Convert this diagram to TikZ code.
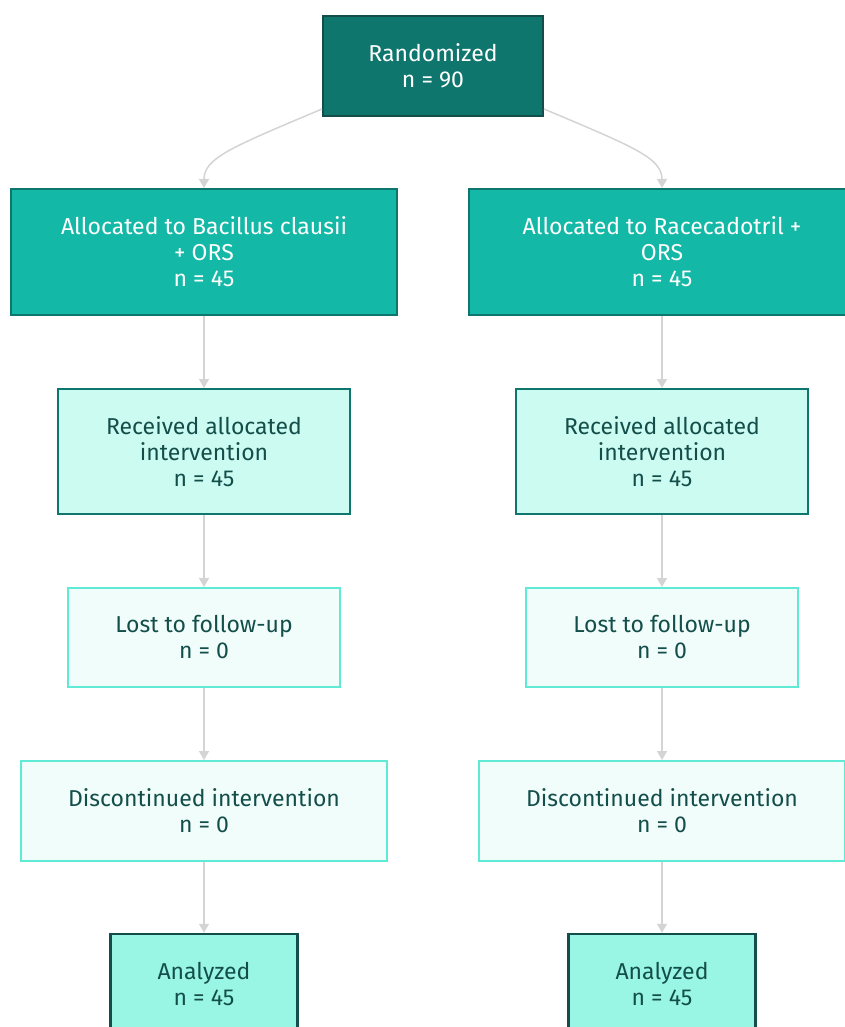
\documentclass[tikz,border=0pt]{standalone}
\usepackage{fontspec}
\setmainfont{Fira Sans}
\usetikzlibrary{arrows.meta,calc}
\definecolor{tdark}{HTML}{134E4A}
\definecolor{tmid}{HTML}{0F766E}
\definecolor{tbright}{HTML}{14B8A6}
\definecolor{tpale}{HTML}{CCFBF1}
\definecolor{tvpale}{HTML}{F0FDFA}
\definecolor{tline}{HTML}{5EEAD4}
\definecolor{tana}{HTML}{99F6E4}
\definecolor{edgegray}{HTML}{D4D4D4}
\begin{document}
\begin{tikzpicture}[x=1pt,y=-1pt,
  box/.style={rectangle,align=center,inner sep=0pt,font=\fontsize{23}{26}\selectfont,line width=2pt},
  randbox/.style={box,fill=tmid,draw=tdark,text=white},
  allocbox/.style={box,fill=tbright,draw=tmid,text=white},
  recbox/.style={box,fill=tpale,draw=tmid,text=tdark},
  lostbox/.style={box,fill=tvpale,draw=tline,text=tdark},
  anabox/.style={box,fill=tana,draw=tdark,text=tdark,line width=2.5pt},
  conn/.style={draw=edgegray,line width=1.5pt,-{Triangle[length=9pt,width=10pt]}}
]
\useasboundingbox (0,0) rectangle (844,1027);
\node[randbox,minimum width=220pt,minimum height=100pt] (rand) at (433,66) {Randomized\\n = 90};
\node[allocbox,minimum width=386pt,minimum height=126pt] (aL) at (204,252) {Allocated to Bacillus clausii\\+ ORS\\n = 45};
\node[allocbox,minimum width=386pt,minimum height=126pt] (aR) at (662,252) {Allocated to Racecadotril +\\ORS\\n = 45};
\node[recbox,minimum width=292pt,minimum height=125pt] (rL) at (204,451.5) {Received allocated\\intervention\\n = 45};
\node[recbox,minimum width=292pt,minimum height=125pt] (rR) at (662,451.5) {Received allocated\\intervention\\n = 45};
\node[lostbox,minimum width=272pt,minimum height=99pt] (lL) at (204,637.5) {Lost to follow-up\\n = 0};
\node[lostbox,minimum width=272pt,minimum height=99pt] (lR) at (662,637.5) {Lost to follow-up\\n = 0};
\node[lostbox,minimum width=366pt,minimum height=100pt] (dL) at (204,811) {Discontinued intervention\\n = 0};
\node[lostbox,minimum width=366pt,minimum height=100pt] (dR) at (662,811) {Discontinued intervention\\n = 0};
\node[anabox,minimum width=187pt,minimum height=100pt] (nL) at (204,984) {Analyzed\\n = 45};
\node[anabox,minimum width=187pt,minimum height=100pt] (nR) at (662,984) {Analyzed\\n = 45};
\coordinate (rl) at ($(rand.south west)+(0,-8)$);
\coordinate (rr) at ($(rand.south east)+(0,-8)$);
\draw[conn] (rl) .. controls (232,147) and (204,158) .. (aL.north);
\draw[conn] (rr) .. controls (634,147) and (662,158) .. (aR.north);
\draw[conn] (aL) -- (rL);
\draw[conn] (aR) -- (rR);
\draw[conn] (rL) -- (lL);
\draw[conn] (rR) -- (lR);
\draw[conn] (lL) -- (dL);
\draw[conn] (lR) -- (dR);
\draw[conn] (dL) -- (nL);
\draw[conn] (dR) -- (nR);
\end{tikzpicture}
\end{document}
